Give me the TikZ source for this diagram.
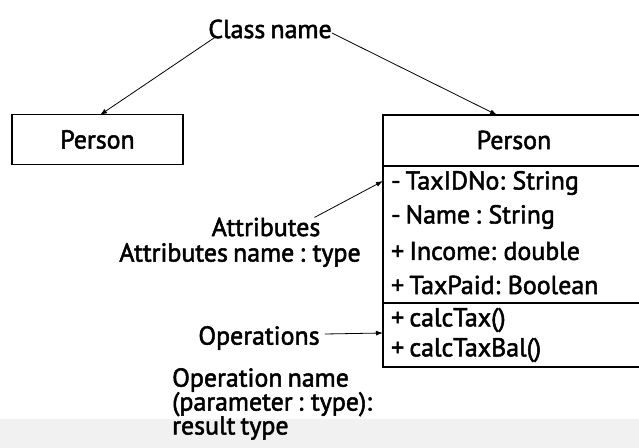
\documentclass[tikz,border=0pt]{standalone}
\usepackage{fontspec}
\setmainfont{PT Sans}[FakeBold=2, WordSpace=0.75]
\usetikzlibrary{positioning,arrows.meta}
\tikzstyle{umlDiagram} = [x = 1bp, y = -1bp]
\tikzstyle{labelText} = [font=\fontsize{26}{24}\selectfont, inner sep=0pt]
\tikzstyle{memberText} = [labelText, anchor=west]
\tikzstyle{classBox} = [draw, line width=1.1bp, minimum width=171bp, minimum height=50bp, labelText]
\tikzstyle{frameLine} = [line width=1.1bp]
\tikzstyle{pointer} = [-{Latex[length=7bp,width=5bp]}, line width=0.8bp]
\definecolor{scanGray}{RGB}{241,241,241}

\begin{document}
\begin{tikzpicture}[umlDiagram]
  \useasboundingbox (0,0) rectangle (639,448);
  \fill [scanGray] (0,419) rectangle (639,448);
  % the two class boxes
  \node [classBox] (leftClass) at (97.5,139.5) {Person};
  \draw [frameLine] (639,115) -- (383,115) -- (383,367) -- (639,367);
  \draw [frameLine] (383,166) -- (639,166);
  \draw [frameLine] (383,303) -- (639,303);
  \node [labelText] (rightName) at (514,140) {Person};
  \foreach \rowY/\rowText [count=\i] in {183/{- TaxIDNo: String}, 217/{- Name : String}, 251/{+ Income: double}, 285/{+ TaxPaid: Boolean}} {
    \node [memberText] (attr\i) at (391,\rowY) {\rowText};
  }
  \foreach \rowY/\rowText [count=\i] in {320/{+ calcTax()}, 350/{+ calcTaxBal()}} {
    \node [memberText] (oper\i) at (391,\rowY) {\rowText};
  }
  % labels
  \node [labelText] (className) at (270,29) {Class name};
  \node [labelText] (attrLabel) at (266,227) {Attributes};
  \node [labelText] (attrTypeLabel) at (240,255) {Attributes name : type};
  \node [labelText] (opsLabel) at (259,338) {Operations};
  \node [labelText, anchor=north west, align=left] (opsSigLabel) at (172,368) {Operation name\\(parameter : type):\\result type};
  % pointers
  \coordinate (leftTip) at (100,115);
  \coordinate (rightTip) at (497,115);
  \coordinate (attrTip) at (383,181);
  \coordinate (opsTip) at (383,333);
  \draw [pointer] ([xshift=8bp, yshift=2bp]className.south west) -- (leftTip);
  \draw [pointer] ([yshift=-4bp]className.east) -- (rightTip);
  \draw [pointer] ([xshift=-6bp]attrLabel.north east) -- (attrTip);
  \draw [pointer] ([xshift=5bp, yshift=4bp]opsLabel.east) -- (opsTip);
\end{tikzpicture}
\end{document}
